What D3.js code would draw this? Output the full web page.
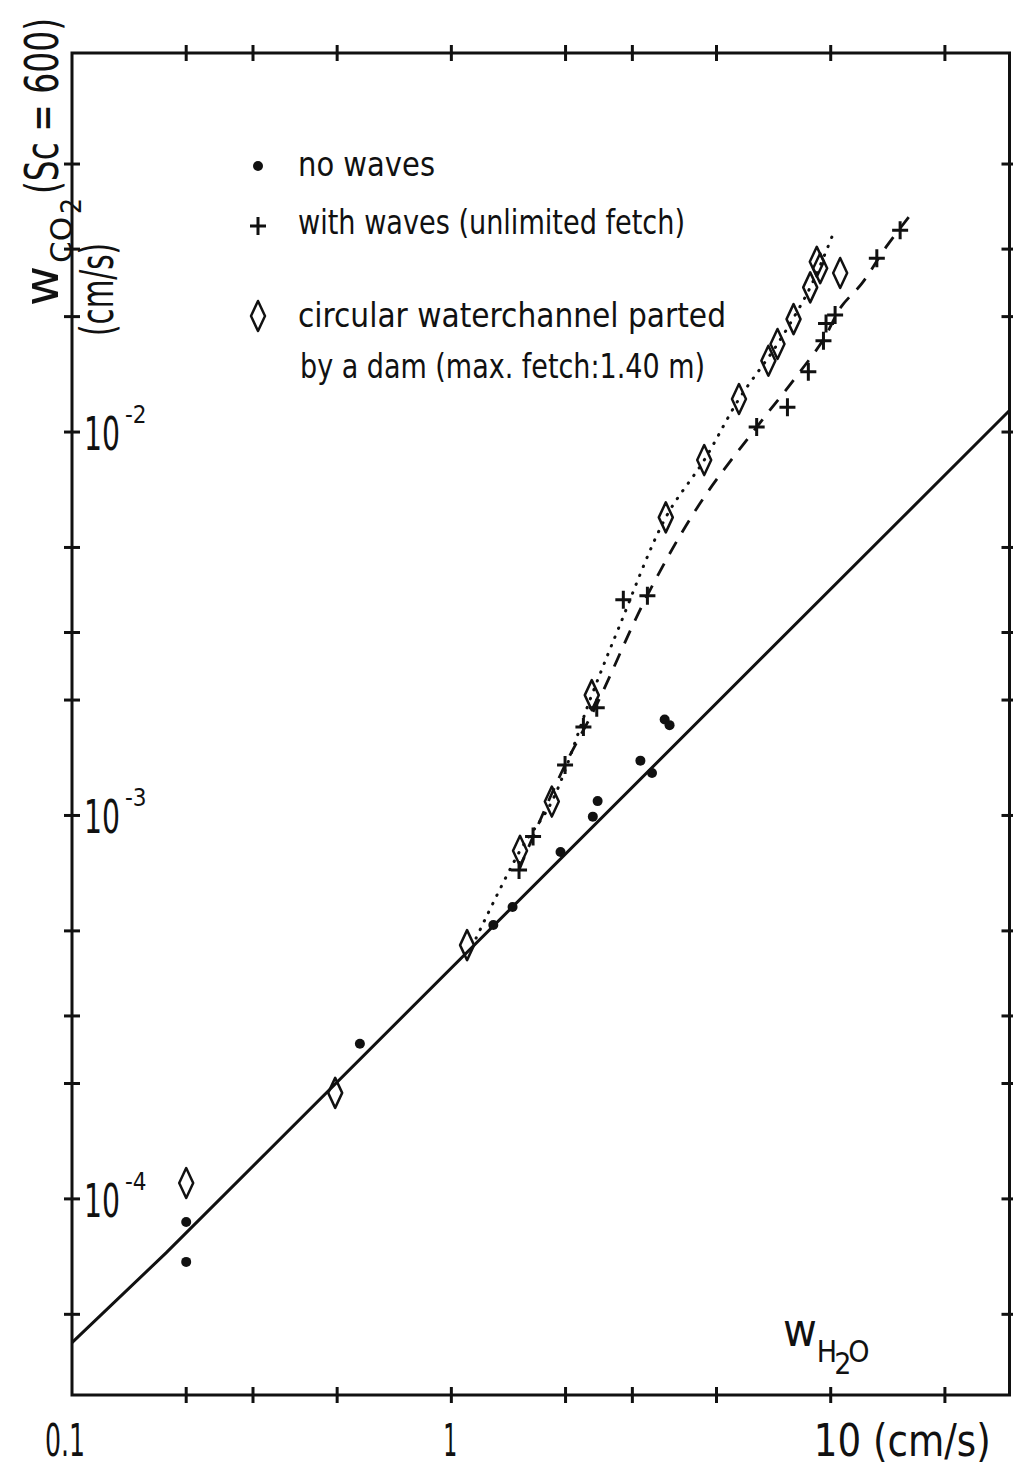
<!DOCTYPE html>
<html>
<head>
<meta charset="utf-8">
<script src="https://cdn.jsdelivr.net/npm/d3@7"></script>
<style>
  body { margin: 0; background: #fff; }
  text { font-family: "DejaVu Sans Condensed", "DejaVu Sans", sans-serif; fill: #111; }
</style>
</head>
<body>
<svg id="chart" width="1013" height="1468"></svg>
<script>
// no waves (dots)
var noWavesX = [0.2, 0.2, 0.574, 1.29, 1.45, 1.94, 2.36, 2.43, 3.15, 3.38, 3.65, 3.76];
var noWavesY = [8.7e-5, 6.85e-5, 2.54e-4, 5.18e-4, 5.77e-4, 8.03e-4, 9.93e-4, 1.09e-3, 1.39e-3, 1.29e-3, 1.78e-3, 1.72e-3];

// with waves, unlimited fetch (crosses)
var wavesX = [1.508, 1.642, 1.994, 2.229, 2.417, 2.84, 3.287, 6.38, 7.69, 8.73, 9.57, 9.72, 10.27, 13.23, 15.24];
var wavesY = [7.21e-4, 8.81e-4, 1.354e-3, 1.70e-3, 1.91e-3, 3.65e-3, 3.74e-3, 0.0103, 0.0116, 0.01437, 0.01729, 0.0192, 0.0202, 0.02838, 0.0336];

// circular waterchannel parted by a dam (diamonds)
var damX = [0.2, 0.494, 1.10, 1.517, 1.84, 2.345, 3.675, 4.64, 5.73, 6.85, 7.24, 7.98, 8.83, 9.19, 9.38, 10.59];
var damY = [1.10e-4, 1.89e-4, 4.59e-4, 8.09e-4, 1.087e-3, 2.06e-3, 5.99e-3, 8.45e-3, 0.01219, 0.01535, 0.01697, 0.0197, 0.02384, 0.0278, 0.02673, 0.026];

// solid line (no waves)
var solidX = [0.1, 0.177, 29.6];
var solidY = [4.22e-5, 7.23e-5, 0.01138];

// dotted line (dam)
var dottedX = [1.162, 1.517, 1.84, 2.345, 2.76, 3.675, 4.64, 5.73, 7.24, 8.83, 10.15];
var dottedY = [4.79e-4, 8.09e-4, 1.087e-3, 2.06e-3, 3.08e-3, 5.99e-3, 8.45e-3, 0.01219, 0.01697, 0.02384, 0.0329];

// dashed line (waves)
var dashedX = [1.508, 1.642, 1.994, 2.406, 3.28, 4.53, 6.38, 8.06, 9.55, 10.65, 12.10, 14.0, 16.36];
var dashedY = [7.21e-4, 8.81e-4, 1.354e-3, 1.93e-3, 3.74e-3, 6.53e-3, 0.0103, 0.01383, 0.01738, 0.0212, 0.02446, 0.0304, 0.0372];

var xTicks = [0.2, 0.3, 0.5, 1, 2, 3, 5, 10, 20];
var yTicks = [5e-5, 1e-4, 2e-4, 3e-4, 5e-4, 1e-3, 2e-3, 3e-3, 5e-3, 1e-2, 2e-2, 3e-2, 5e-2];
var xLabels = ["0.1", "1", "10 (cm/s)"];
var xLabelVals = [0.1, 1, 10];
var yLabelVals = [1e-2, 1e-3, 1e-4];
var yLabelExp = ["-2", "-3", "-4"];
var legendLines = ["no waves", "with waves  (unlimited fetch)", "circular waterchannel parted", "by a dam  (max. fetch:1.40 m)"];

var svg = d3.select("#chart");

var xScale = d3.scaleLog().domain([0.1, 29.6]).range([72, 1009.5]);
var yScale = d3.scaleLog().domain([3.08e-5, 0.0974]).range([1395, 53]);

var x0 = xScale.range()[0], x1 = xScale.range()[1];
var y0 = yScale.range()[0], y1 = yScale.range()[1];

function zip(a, b) { return a.map(function(v, i) { return [v, b[i]]; }); }

// frame
svg.append("rect")
    .attr("x", x0).attr("y", y1)
    .attr("width", x1 - x0).attr("height", y0 - y1)
    .style("fill", "none").style("stroke", "#111").style("stroke-width", 3);

// ticks crossing the frame on all four sides
var tk = 8;
var tg = svg.append("g").style("stroke", "#111").style("stroke-width", 3);
xTicks.forEach(function(t) {
    tg.append("line").attr("x1", xScale(t)).attr("x2", xScale(t)).attr("y1", y0 - tk).attr("y2", y0 + tk);
    tg.append("line").attr("x1", xScale(t)).attr("x2", xScale(t)).attr("y1", y1 - tk).attr("y2", y1 + tk);
});
yTicks.forEach(function(t) {
    tg.append("line").attr("y1", yScale(t)).attr("y2", yScale(t)).attr("x1", x0 - tk).attr("x2", x0 + tk);
    tg.append("line").attr("y1", yScale(t)).attr("y2", yScale(t)).attr("x1", x1 - tk).attr("x2", x1 + tk);
});

// x tick labels
var xLabelLen = [40, 14, 177];
xLabels.forEach(function(l, i) {
    var px = xScale(xLabelVals[i]);
    svg.append("text")
        .attr("x", i == 0 ? px - 27 : (i == 1 ? px - 8 : px - 17))
        .attr("y", 1456)
        .attr("textLength", xLabelLen[i])
        .attr("lengthAdjust", "spacingAndGlyphs")
        .style("font-size", "44px")
        .text(l);
});

// y tick labels 10^-n
yLabelVals.forEach(function(v, i) {
    var t = svg.append("text")
        .attr("x", x0 + 12)
        .attr("y", yScale(v) + 18)
        .style("font-size", "46px");
    t.append("tspan")
        .attr("textLength", 36)
        .attr("lengthAdjust", "spacingAndGlyphs")
        .text("10");
    t.append("tspan")
        .attr("dx", 5)
        .attr("dy", -27)
        .style("font-size", "24px")
        .text(yLabelExp[i]);
});

// y axis title, drawn in pieces along the left edge
svg.append("text")
    .attr("transform", "translate(58,306) rotate(-90)")
    .attr("textLength", 40)
    .attr("lengthAdjust", "spacingAndGlyphs")
    .style("font-size", "48px")
    .text("w");
svg.append("text")
    .attr("transform", "translate(72,263) rotate(-90)")
    .attr("textLength", 46)
    .attr("lengthAdjust", "spacingAndGlyphs")
    .style("font-size", "30px")
    .text("CO");
svg.append("text")
    .attr("transform", "translate(81,214) rotate(-90)")
    .style("font-size", "28px")
    .text("2");
svg.append("text")
    .attr("transform", "translate(58,194) rotate(-90)")
    .attr("textLength", 176)
    .attr("lengthAdjust", "spacingAndGlyphs")
    .style("font-size", "46px")
    .text("(Sc = 600)");

svg.append("text")
    .attr("transform", "translate(113,336) rotate(-90)")
    .attr("textLength", 93)
    .attr("lengthAdjust", "spacingAndGlyphs")
    .style("font-size", "46px")
    .text("(cm/s)");

// x axis title w_H2O
var xt = svg.append("text")
    .attr("x", 783).attr("y", 1346)
    .style("font-size", "46px");
xt.append("tspan").text("w");
xt.append("tspan").attr("dy", 16).style("font-size", "30px").text("H");
xt.append("tspan").attr("dy", 12).attr("dx", -3).style("font-size", "30px").text("2");
xt.append("tspan").attr("dy", -12).attr("dx", -3).style("font-size", "30px").text("O");

// lines
var line = d3.line()
    .x(function(d) { return xScale(d[0]); })
    .y(function(d) { return yScale(d[1]); });

svg.append("path")
    .datum(zip(solidX, solidY))
    .attr("d", line)
    .style("fill", "none").style("stroke", "#111").style("stroke-width", 3);

svg.append("path")
    .datum(zip(dottedX, dottedY))
    .attr("d", line.curve(d3.curveCatmullRom))
    .style("fill", "none").style("stroke", "#111").style("stroke-width", 3)
    .style("stroke-linecap", "round").style("stroke-dasharray", "0.5 9");

svg.append("path")
    .datum(zip(dashedX, dashedY))
    .attr("d", line.curve(d3.curveCatmullRom))
    .style("fill", "none").style("stroke", "#111").style("stroke-width", 2.8)
    .style("stroke-dasharray", "14 11");

// markers
function dot(g, x, y) {
    g.append("circle").attr("cx", x).attr("cy", y).attr("r", 5).style("fill", "#111");
}
function cross(g, x, y) {
    g.append("path").attr("d", "M" + (x - 8) + "," + y + "H" + (x + 8) + "M" + x + "," + (y - 9) + "V" + (y + 9))
        .style("stroke", "#111").style("stroke-width", 3).style("fill", "none");
}
function diamond(g, x, y) {
    g.append("path").attr("d", "M" + x + "," + (y - 15) + "L" + (x + 7) + "," + y + "L" + x + "," + (y + 15) + "L" + (x - 7) + "," + y + "Z")
        .style("stroke", "#111").style("stroke-width", 2.5).style("fill", "none").style("stroke-linejoin", "round");
}

var mg = svg.append("g");
zip(noWavesX, noWavesY).forEach(function(d) { dot(mg, xScale(d[0]), yScale(d[1])); });
zip(wavesX, wavesY).forEach(function(d) { cross(mg, xScale(d[0]), yScale(d[1])); });
zip(damX, damY).forEach(function(d) { diamond(mg, xScale(d[0]), yScale(d[1])); });

// legend
var lg = svg.append("g");
dot(lg, 258, 166);
cross(lg, 258, 226);
diamond(lg, 258, 316);
var legY = [176, 234, 327, 378];
var legLen = [137, 387, 428, 405];
legendLines.forEach(function(l, i) {
    lg.append("text")
        .attr("x", i == 3 ? 300 : 298)
        .attr("y", legY[i])
        .attr("textLength", legLen[i])
        .attr("lengthAdjust", "spacingAndGlyphs")
        .style("font-size", "34px")
        .text(l);
});
</script>
</body>
</html>
